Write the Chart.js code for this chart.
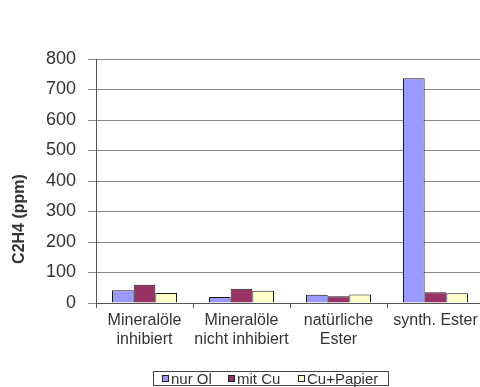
<!DOCTYPE html>
<html>
<head>
<meta charset="utf-8">
<script src="https://cdn.jsdelivr.net/npm/chart.js@4/dist/chart.umd.min.js"></script>
<style>
  html, body { margin: 0; padding: 0; background: #fff; overflow: hidden; }
  #wrap { position: relative; width: 480px; height: 387px; overflow: hidden; }
  #wrap canvas { position: absolute; left: 0; top: 0; }
  #legend {
    position: absolute; left: 153px; top: 371px; width: 236px; height: 15px;
    border: 1px solid #444; box-sizing: border-box;
    font: 15px "Liberation Sans", Arial, sans-serif; color: #333; white-space: nowrap;
  }
  #legend .item { position: absolute; top: 0; height: 13px; line-height: 13px; display: flex; align-items: center; }
  #legend .sw { display: inline-block; width: 5px; height: 5px; border: 1px solid #222; margin-right: 2px; }
</style>
</head>
<body>
<div id="wrap">
  <canvas id="c" width="490" height="387" style="width:490px;height:387px"></canvas>
  <div id="legend"></div>
</div>
<script>
const categories = [
  ['Mineralöle', 'inhibiert'],
  ['Mineralöle', 'nicht inhibiert'],
  ['natürliche', 'Ester'],
  'synth. Ester'
];
const seriesNames = ['nur Öl', 'mit Cu', 'Cu+Papier'];
// one value per category, in category order
const nurOel = [42, 20, 27, 737];
const mitCu = [60, 47, 22, 35];
const cuPapier = [33, 40, 28, 32];
const seriesValues = [nurOel, mitCu, cuPapier];
const seriesColors = ['#9999FF', '#993366', '#FFFFCC'];
const yTicks = [0, 100, 200, 300, 400, 500, 600, 700, 800];
const yTitle = 'C2H4 (ppm)';

const datasets = seriesNames.map((name, s) => ({
  label: name,
  data: seriesValues[s],
  backgroundColor: seriesColors[s],
  borderColor: '#1a1a1a',
  borderWidth: 1,
  barPercentage: 1.0,
  categoryPercentage: 0.67
}));

const fontFamily = '"Liberation Sans", Arial, sans-serif';

// vertical axis title, drawn rotated beside the value labels
const yTitlePlugin = {
  id: 'yTitle',
  afterDraw(chart) {
    const ctx = chart.ctx;
    ctx.save();
    ctx.translate(20, 219);
    ctx.rotate(-Math.PI / 2);
    ctx.font = 'bold 16px ' + fontFamily;
    ctx.fillStyle = '#333';
    ctx.textAlign = 'center';
    ctx.textBaseline = 'middle';
    ctx.fillText(yTitle, 0, 0);
    ctx.restore();
  }
};

new Chart(document.getElementById('c'), {
  type: 'bar',
  data: { labels: categories, datasets },
  options: {
    responsive: false,
    animation: false,
    events: [],
    layout: { padding: { left: 0, right: 6, top: 59, bottom: 0 } },
    plugins: { legend: { display: false }, tooltip: { enabled: false } },
    scales: {
      x: {
        grid: { display: true, drawOnChartArea: false, offset: true, tickLength: 5, color: '#555', lineWidth: 1 },
        border: { display: true, color: '#555', width: 1 },
        ticks: {
          autoSkip: false, maxRotation: 0, minRotation: 0, padding: 3,
          color: '#333', font: { family: fontFamily, size: 16, lineHeight: 1.2 }
        },
        afterFit: (scale) => { scale.height = 84; }
      },
      y: {
        min: 0, max: 800,
        afterBuildTicks: (scale) => { scale.ticks = yTicks.map(v => ({ value: v })); },
        grid: { color: '#888', lineWidth: 1, tickLength: 8 },
        border: { display: true, color: '#555', width: 1 },
        ticks: { color: '#333', padding: 12, font: { family: fontFamily, size: 18 } },
        afterFit: (scale) => { scale.width = 96; }
      }
    }
  },
  plugins: [yTitlePlugin]
});

// legend row
const legend = document.getElementById('legend');
const itemLeft = [8, 74, 144];
seriesNames.forEach((name, s) => {
  const item = document.createElement('span');
  item.className = 'item';
  item.style.left = itemLeft[s] + 'px';
  const sw = document.createElement('span');
  sw.className = 'sw';
  sw.style.background = seriesColors[s];
  item.appendChild(sw);
  item.appendChild(document.createTextNode(name));
  legend.appendChild(item);
});
</script>
</body>
</html>
